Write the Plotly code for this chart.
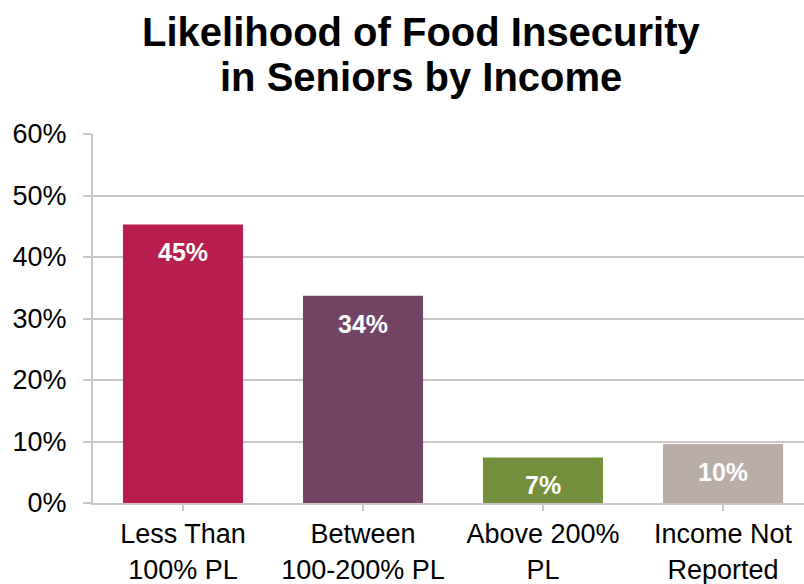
import plotly.graph_objects as go

categories = ["Less Than<br>100% PL", "Between<br>100-200% PL", "Above 200%<br>PL", "Income Not<br>Reported"]
values = [0.453, 0.337, 0.074, 0.096]
labels = ["45%", "34%", "7%", "10%"]
colors = ["#B81E4D", "#734466", "#74903C", "#BAADA8"]
title_lines = ["Likelihood of Food Insecurity", "in Seniors by Income"]

grid = "#CCC5C1"
font_family = "Liberation Sans, Arial, sans-serif"

fig = go.Figure()
fig.add_trace(go.Bar(
    x=categories, y=values, marker=dict(color=colors, line=dict(width=0)),
    width=0.667, hoverinfo="skip",
))

for c, v, t in zip(categories, values, labels):
    fig.add_annotation(x=c, y=v, text="<b>" + t + "</b>", showarrow=False, yanchor="middle",
                       yshift=-28, font=dict(family=font_family, size=25, color="white"))

# title as two centred lines
for i, line in enumerate(title_lines):
    fig.add_annotation(xref="paper", yref="paper", x=0.462, y=1.0 + (102 - 45 * i) / 369.0,
                       xanchor="center", yanchor="middle", showarrow=False,
                       text="<b>" + line + "</b>",
                       font=dict(family=font_family, size=40, color="black"))

fig.update_layout(
    width=804, height=584,
    margin=dict(l=93, r=0, t=134, b=81),
    paper_bgcolor="white", plot_bgcolor="white",
    showlegend=False,
    font=dict(family=font_family, color="black"),
)
fig.update_xaxes(
    range=[-0.5, 3.45], showline=True, linecolor=grid, linewidth=2,
    ticks="outside", ticklen=6, tickcolor=grid, tickwidth=2,
    tickfont=dict(size=27, family=font_family, color="black"),
    showgrid=False,
)
fig.update_yaxes(
    range=[0, 0.6], dtick=0.1, tickformat=".0%",
    showline=True, linecolor=grid, linewidth=2,
    showgrid=True, gridcolor=grid, gridwidth=2,
    ticks="outside", ticklen=8, tickcolor=grid, tickwidth=2,
    tickfont=dict(size=27, family=font_family, color="black"),
    ticklabelstandoff=11, zeroline=False,
)

fig.write_html("out.html")
